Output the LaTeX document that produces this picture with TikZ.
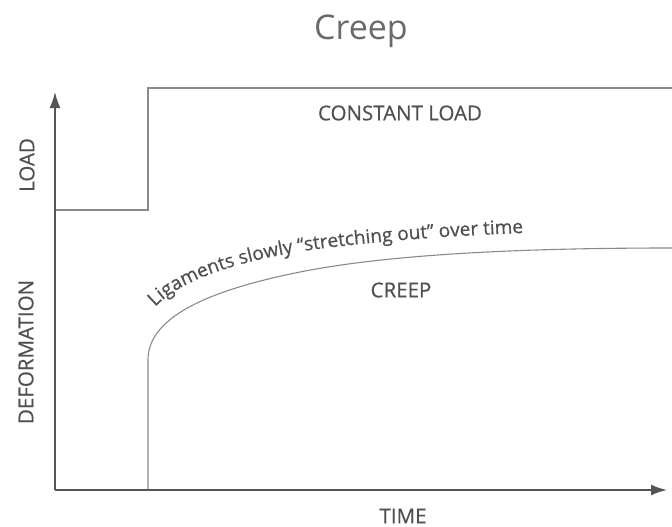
\documentclass[tikz,border=0pt]{standalone}
\usepackage{fontspec}
\setmainfont{Open Sans}
\newfontfamily\semib{Open Sans}[FakeBold=0.6]
\usetikzlibrary{arrows.meta,decorations.text}
\definecolor{axis}{HTML}{555555}
\definecolor{curve}{HTML}{8A8A8A}
\definecolor{txt}{HTML}{505050}
\begin{document}
\begin{tikzpicture}[x=1pt,y=-1pt,
  axisline/.style={draw=axis,line width=1.8pt,-{Latex[length=16pt,width=11pt]}},
  curveline/.style={draw=curve,line width=1.1pt},
  lbl/.style={text=txt,font=\semib\fontsize{20.5}{20.5}\selectfont,inner sep=0pt},
  ttl/.style={text=txt!85,font=\fontsize{34}{34}\selectfont,inner sep=0pt}]
\useasboundingbox (0,0) rectangle (672,527);
\coordinate (o) at (55,490);
\coordinate (ytip) at (55,92);
\coordinate (xtip) at (667,490);
\coordinate (l0) at (55,210);
\coordinate (l1) at (148,210);
\coordinate (l2) at (148,88);
\coordinate (l3) at (672,88);
\coordinate (c0) at (148,490);
\coordinate (c1) at (148,360);
\coordinate (c2) at (300,272);
\coordinate (c3) at (672,248);
% load
\draw[curveline] (l0) -- (l1) -- (l2) -- (l3);
% creep
\draw[curveline] (c0) -- (c1) .. controls (148,320) and (200,292) .. (c2)
  .. controls (400,252) and (550,248) .. (c3);
% axes
\draw[axisline] (o) -- (ytip);
\draw[axisline] (o) -- (xtip);
% texts
\node[ttl] (title) at (361,31) {Creep};
\node[lbl] (constload) at (400,113) {CONSTANT LOAD};
\node[lbl] (creep) at (401,290) {CREEP};
\node[lbl] (time) at (403,516) {TIME};
\node[lbl,rotate=90] (load) at (27,165) {LOAD};
\node[lbl,rotate=90] (deform) at (26,352) {DEFORMATION};
\path[decorate,decoration={text along path,text align=left,
  text={|\semib\fontsize{19}{19}\selectfont\color{txt}|Ligaments slowly “stretching out” over time}}]
  (155,307) .. controls (180,281) and (232,262) .. (310,250)
  .. controls (400,238) and (500,232) .. (640,230);
\end{tikzpicture}
\end{document}
